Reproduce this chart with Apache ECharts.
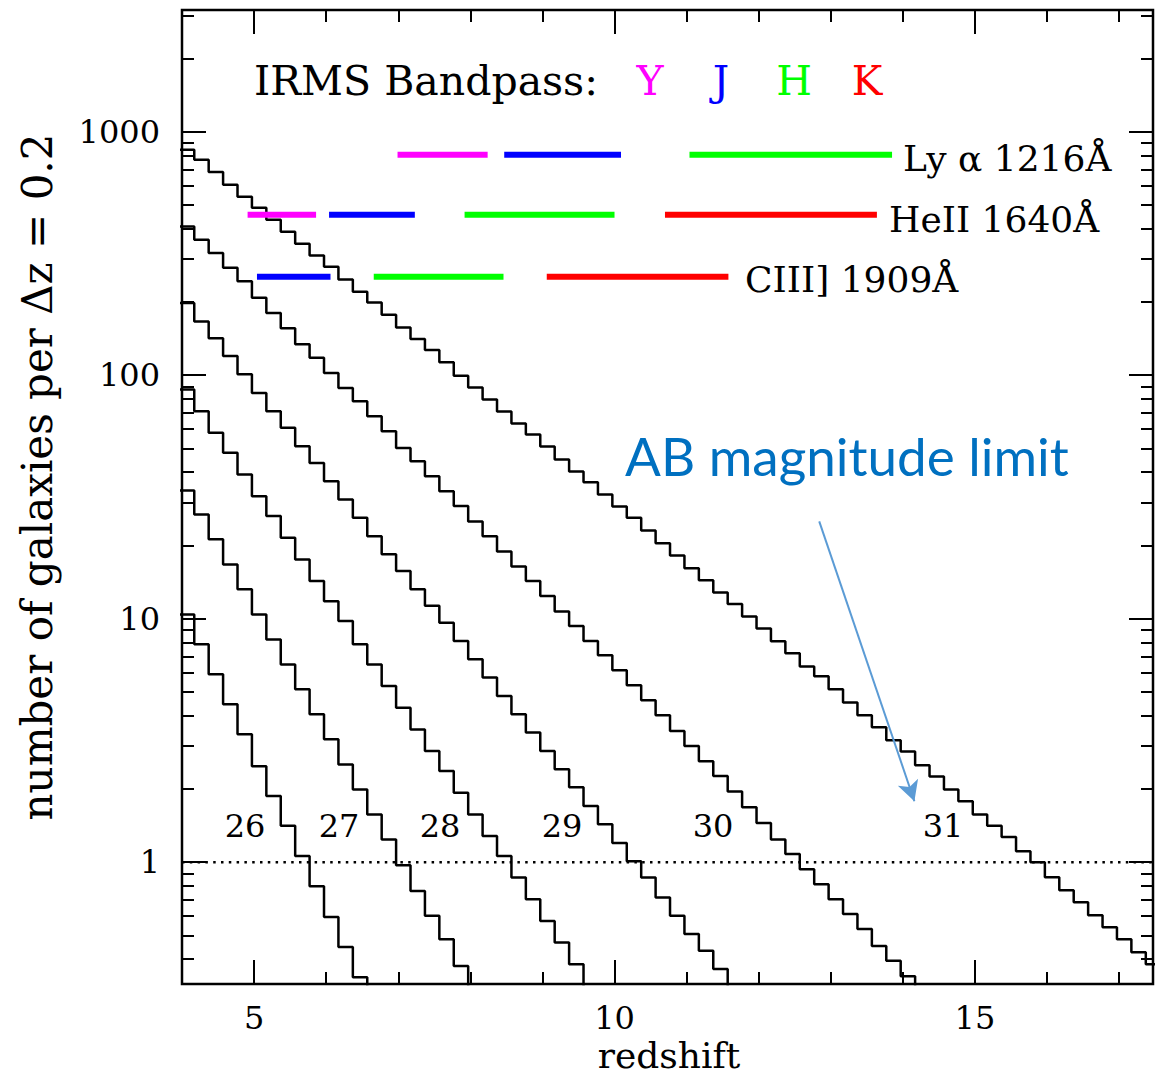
<!DOCTYPE html>
<html>
<head>
<meta charset="utf-8">
<title>galaxies per redshift bin</title>
<script src="https://cdn.jsdelivr.net/npm/echarts@6/dist/echarts.min.js"></script>
<style>
  html, body { margin: 0; padding: 0; background: #fff; }
  #chart { width: 1166px; height: 1077px; }
</style>
</head>
<body>
<div id="chart"></div>
<script>
// histogram bins: dz = 0.2, first bin starts just left of the axis
const binStart = 3.97;
const binWidth = 0.2;

// number of galaxies per bin, one list per AB magnitude limit
const mag26 = [10.4, 7.85, 5.91, 4.45, 3.35, 2.48, 1.87, 1.41, 1.06, 0.797, 0.595, 0.448, 0.337, 0.280];
const mag27 = [33.6, 26.8, 21.2, 16.7, 13.2, 10.4, 8.22, 6.49, 5.13, 4.05, 3.20, 2.52, 1.99, 1.57, 1.24,
  0.972, 0.762, 0.602, 0.483, 0.375, 0.290];
const mag28 = [87.3, 71.1, 58.0, 48.0, 39.1, 31.8, 26.4, 21.5, 17.5, 14.3, 11.8, 9.78, 7.85, 6.49, 5.29,
  4.31, 3.51, 2.86, 2.37, 1.93, 1.57, 1.28, 1.06, 0.866, 0.705, 0.574, 0.468, 0.381, 0.300];
const mag29 = [198, 166, 142, 120, 101, 84.6, 71.1, 60.8, 51.1, 43.6, 36.7, 30.9, 26.0, 21.8, 18.4,
  15.7, 13.2, 11.3, 9.63, 8.09, 6.81, 5.73, 4.81, 4.05, 3.41, 2.86, 2.41, 2.03, 1.70, 1.43,
  1.20, 1.01, 0.866, 0.716, 0.602, 0.507, 0.433, 0.364, 0.300];
const mag30 = [408, 360, 318, 276, 243, 208, 180, 156, 134, 118, 102, 88.7, 78.2, 67.8, 58.9,
  50.3, 44.3, 38.5, 33.4, 29.0, 25.1, 21.8, 18.9, 16.4, 14.3, 12.4, 10.7, 9.33, 8.09, 7.07,
  6.14, 5.33, 4.62, 4.01, 3.46, 3.00, 2.60, 2.26, 1.95, 1.68, 1.45, 1.24, 1.08, 0.936, 0.812,
  0.705, 0.612, 0.531, 0.453, 0.394, 0.340, 0.295];
const mag31 = [843, 767, 684, 606, 541, 487, 435, 388, 347, 310, 279, 247, 220, 199, 177,
  157, 141, 127, 113, 99.6, 89.0, 79.4, 70.9, 63.3, 57.1, 50.9, 45.1, 40.2, 36.3, 32.4,
  28.9, 26.0, 23.0, 20.4, 18.2, 16.1, 14.4, 12.8, 11.5, 10.2, 9.12, 8.07, 7.21, 6.37, 5.80,
  5.13, 4.53, 4.01, 3.58, 3.17, 2.85, 2.50, 2.25, 1.99, 1.78, 1.57, 1.41, 1.27, 1.11, 1.00,
  0.868, 0.767, 0.685, 0.606, 0.541, 0.483, 0.427, 0.381];

const magNames = ['26', '27', '28', '29', '30', '31'];

// IRMS bandpass coverage in redshift for each emission line: [band, zFrom, zTo]
const lyaBands = [['Y', 6.99, 8.24], ['J', 8.47, 10.09], ['H', 11.04, 13.85]];
const heiiBands = [['Y', 4.91, 5.86], ['J', 6.04, 7.23], ['H', 7.92, 10.0], ['K', 10.70, 13.64]];
const ciiiBands = [['J', 5.04, 6.06], ['H', 6.66, 8.46], ['K', 9.06, 11.58]];
const lineLevels = [804, 456, 254]; // where each row is drawn on the y axis

// ticks
const zMajor = [5, 10, 15];
const zMinor = [4, 6, 7, 8, 9, 11, 12, 13, 14, 16, 17];
const nMajor = [1, 10, 100, 1000];
const nMinor = [0.4, 0.5, 0.6, 0.7, 0.8, 0.9, 2, 3, 4, 5, 6, 7, 8, 9,
  20, 30, 40, 50, 60, 70, 80, 90, 200, 300, 400, 500, 600, 700, 800, 900, 2000, 3000];

// arrow for the annotation: [z, N] start and tip
const arrowFrom = [12.84, 25.1];
const arrowTo = [14.16, 1.78];

const bandColor = { Y: '#ff00ff', J: '#0000ff', H: '#00ff00', K: '#ff0000' };
const serif = 'DejaVu Serif';

const chart = echarts.init(document.getElementById('chart'), null, { renderer: 'svg' });

function staircase(vals) {
  const pts = [];
  vals.forEach((v, k) => {
    const lo = binStart + k * binWidth;
    pts.push([lo, v], [lo + binWidth, v]);
  });
  return pts;
}

function xAxisOf(position, vals, len, showLabel) {
  return {
    type: 'value', position, min: 4, max: 17.47,
    axisLine: { show: false }, splitLine: { show: false },
    axisTick: { show: true, inside: true, length: len, customValues: vals,
      lineStyle: { color: '#000', width: 2 } },
    axisLabel: { show: showLabel, customValues: vals, margin: 18,
      fontFamily: serif, fontSize: 32, color: '#000' }
  };
}

function yAxisOf(position, vals, len, showLabel) {
  return {
    type: 'log', position, min: 0.316, max: 3162,
    axisLine: { show: false }, splitLine: { show: false },
    axisTick: { show: true, inside: true, length: len, customValues: vals,
      lineStyle: { color: '#000', width: 2 } },
    axisLabel: { show: showLabel, customValues: vals, margin: 22,
      fontFamily: serif, fontSize: 32, color: '#000',
      formatter: v => String(Math.round(v)) }
  };
}

const series = [];

[mag26, mag27, mag28, mag29, mag30, mag31].forEach((vals, i) => {
  series.push({
    name: magNames[i], type: 'line', data: staircase(vals),
    symbol: 'none', clip: true, silent: true,
    lineStyle: { color: '#000', width: 2.5 }
  });
});

[lyaBands, heiiBands, ciiiBands].forEach((row, r) => {
  row.forEach(b => {
    series.push({
      type: 'line', data: [[b[1], lineLevels[r]], [b[2], lineLevels[r]]],
      symbol: 'none', silent: true,
      lineStyle: { color: bandColor[b[0]], width: 6, cap: 'butt' }
    });
  });
});

series.push({
  type: 'line', data: [[4, 1], [17.47, 1]], symbol: 'none', silent: true,
  lineStyle: { color: '#000', width: 2.5, type: [2.5, 5.3] },
  markLine: {
    silent: true, symbol: ['none', 'arrow'], symbolSize: [16, 20],
    label: { show: false },
    lineStyle: { color: '#5b9bd5', width: 2, type: 'solid' },
    data: [[{ coord: arrowFrom }, { coord: arrowTo }]]
  }
});

function txt(text, x, y, size, opts) {
  const o = opts || {};
  return {
    type: 'text', x, y, z: 100, rotation: o.rotation || 0,
    style: {
      text, fill: o.fill || '#000',
      fontFamily: o.family || serif, fontSize: size,
      align: o.align || 'left', textAlign: o.align || 'left',
      verticalAlign: 'middle', textVerticalAlign: 'middle'
    }
  };
}

const magLabelX = [245, 339, 440, 562, 713, 943];

const graphic = [
  txt('IRMS Bandpass:', 254, 81, 41),
  txt('Y', 650, 81, 41, { fill: bandColor.Y, align: 'center' }),
  txt('J', 721, 81, 41, { fill: bandColor.J, align: 'center' }),
  txt('H', 794, 81, 41, { fill: bandColor.H, align: 'center' }),
  txt('K', 867, 81, 41, { fill: bandColor.K, align: 'center' }),
  txt('Ly \u03b1 1216\u00c5', 903, 158, 36),
  txt('HeII 1640\u00c5', 889, 219, 36),
  txt('CIII] 1909\u00c5', 745, 279, 36),
  txt('AB magnitude limit', 625, 455, 53, { family: 'Lato', fill: '#0070c0' }),
  txt('redshift', 669, 1055, 36, { align: 'center' }),
  txt('number of galaxies per \u0394z = 0.2', 37, 477, 42, { align: 'center', rotation: Math.PI / 2 })
];
magNames.forEach((m, i) => graphic.push(txt(m, magLabelX[i], 826, 32, { align: 'center' })));

chart.setOption({
  animation: false,
  backgroundColor: '#fff',
  grid: {
    left: 182, right: 13, top: 10, bottom: 93, containLabel: false,
    show: true, borderColor: '#000', borderWidth: 2.5
  },
  xAxis: [
    xAxisOf('bottom', zMajor, 24, true),
    xAxisOf('bottom', zMinor, 12, false),
    xAxisOf('top', zMajor, 24, false),
    xAxisOf('top', zMinor, 12, false)
  ],
  yAxis: [
    yAxisOf('left', nMajor, 24, true),
    yAxisOf('left', nMinor, 12, false),
    yAxisOf('right', nMajor, 24, false),
    yAxisOf('right', nMinor, 12, false)
  ],
  series,
  graphic
});
</script>
</body>
</html>
